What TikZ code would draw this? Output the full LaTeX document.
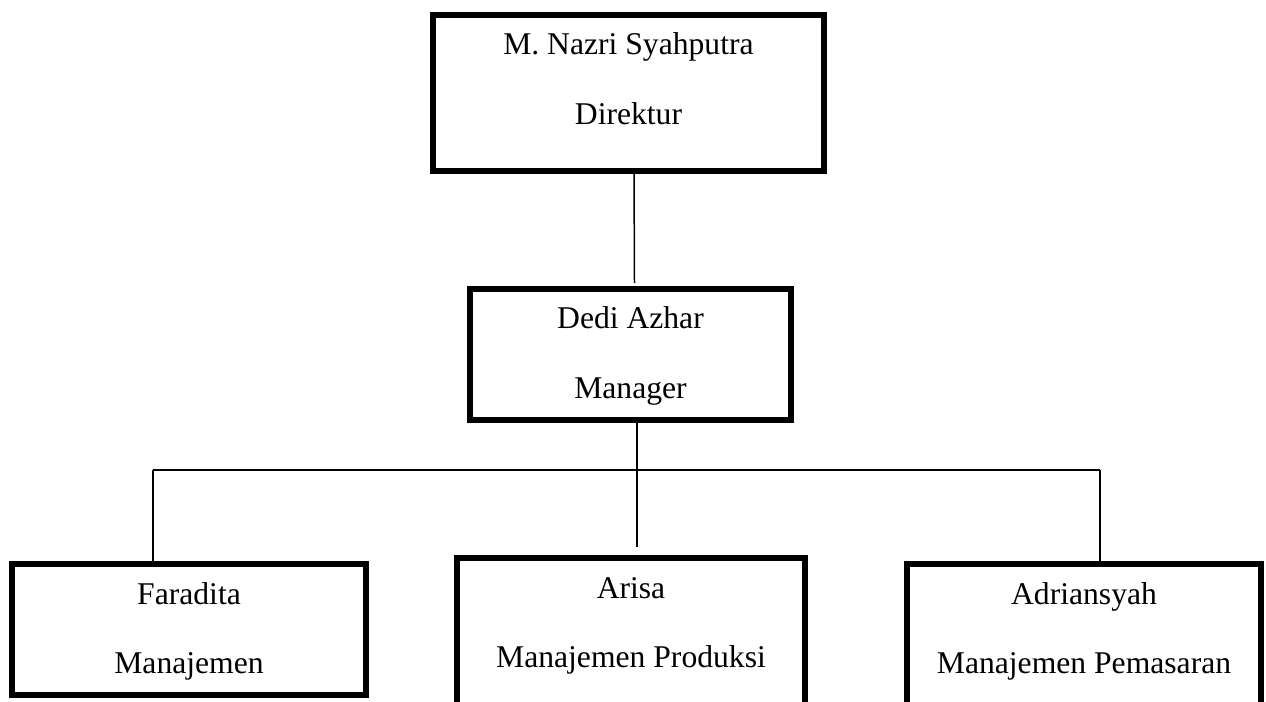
\documentclass[tikz,border=0pt]{standalone}
\usepackage{fontspec}
\setmainfont{Liberation Serif}
\usetikzlibrary{positioning,calc}

\begin{document}
\begin{tikzpicture}[
  box/.style={draw,line width=2.9pt,rectangle,anchor=north,inner sep=0pt,outer sep=0pt,
    align=flush center,text height=0.8cm,text depth=1.82cm,
    font=\fontsize{18pt}{39.3pt}\selectfont},
  link/.style={line width=0.85pt}]
  \clip (0,0) rectangle (25.32,-14.04);

  \node[box,text width=7.82cm,text depth=2.32cm] (dir) at (12.57,-0.30) {M. Nazri Syahputra\\Direktur};
  \node[box,text width=6.42cm] (mgr) at (12.61,-5.78) {Dedi Azhar\\Manager};

  \node[box,text width=7.08cm] (fin)  at (3.78,-11.28)  {Faradita\\Manajemen};
  \node[box,text width=6.96cm,text depth=2.8cm] (prod) at (12.62,-11.16) {Arisa\\Manajemen Produksi};
  \node[box,text width=7.08cm,text depth=2.8cm] (mkt)  at (21.68,-11.28) {Adriansyah\\Manajemen Pemasaran};

  \draw[link] ([xshift=0.11cm]dir.south) -- ([xshift=0.08cm,yshift=0.12cm]mgr.north);

  \coordinate (busL) at (3.06,-9.4);
  \coordinate (busR) at (22.0,-9.4);
  \draw[link] (busL) -- (busR);
  \draw[link] ([xshift=0.13cm]mgr.south) -- ($(mgr.south |- prod.north)+(0.13,0.22)$);
  \foreach \c/\b in {busL/fin,busR/mkt}
    \draw[link] (\c) -- (\c |- \b.north);
\end{tikzpicture}
\end{document}
